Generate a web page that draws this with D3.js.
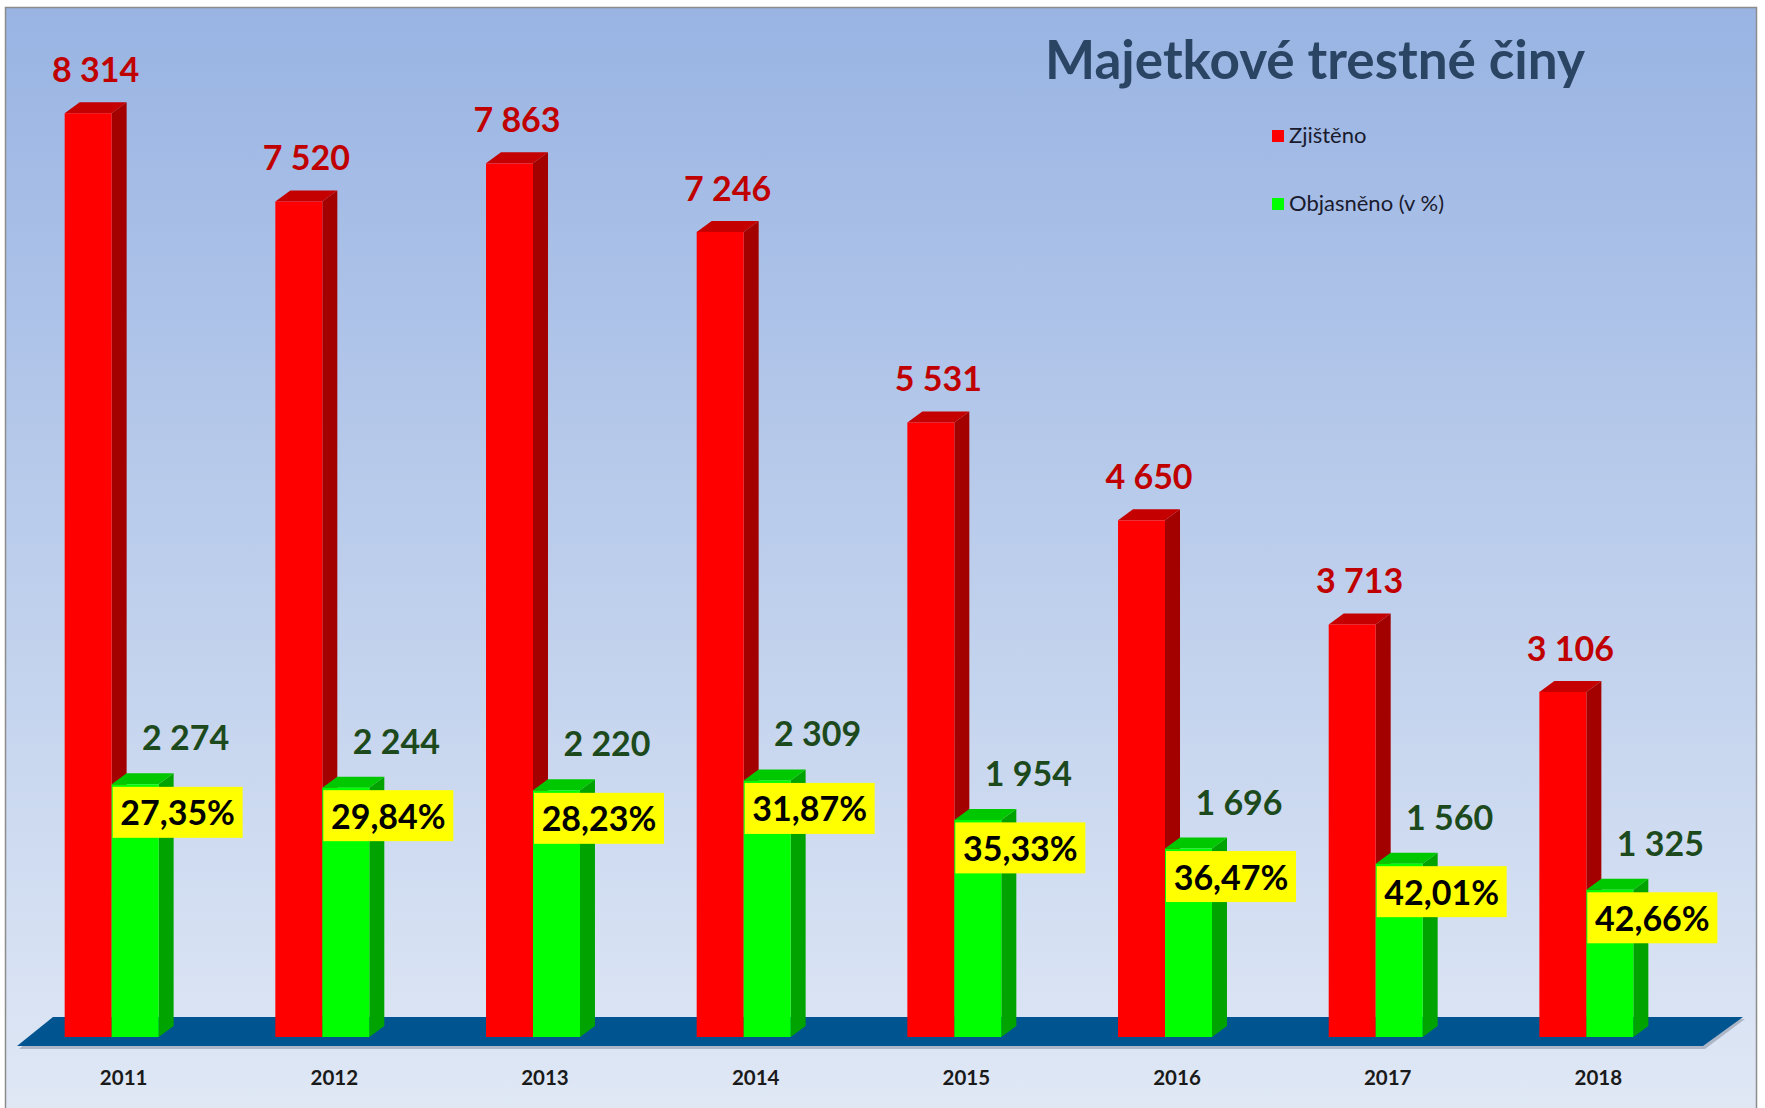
<!DOCTYPE html>
<html>
<head>
<meta charset="utf-8">
<script src="https://cdn.jsdelivr.net/npm/d3@7"></script>
<style>
  body { margin: 0; background: #fff; }
  svg { display: block; }
  text { font-family: Lato, "Open Sans", sans-serif; }
</style>
</head>
<body>
<div id="chart"></div>
<script>
  const years = ['2011', '2012', '2013', '2014', '2015', '2016', '2017', '2018'];
  const zjisteno = [8314, 7520, 7863, 7246, 5531, 4650, 3713, 3106];
  const objasneno = [2274, 2244, 2220, 2309, 1954, 1696, 1560, 1325];
  const procenta = ['27,35%', '29,84%', '28,23%', '31,87%', '35,33%', '36,47%', '42,01%', '42,66%'];
  const seriesNames = ['Zjištěno', 'Objasněno (v %)'];

  const W = 1765;
  const H = 1108;
  const base = 1037;
  const dx = 15;
  const dy = 11;
  const fmt = v => d3.format(',d')(v).replace(/,/g, ' ');

  const svg = d3.select('#chart').append('svg')
    .attr('width', W)
    .attr('height', H);

  const defs = svg.append('defs');
  const grad = defs.append('linearGradient')
    .attr('id', 'bg')
    .attr('x1', 0).attr('y1', 0).attr('x2', 0).attr('y2', 1);
  grad.append('stop').attr('offset', '0%').attr('stop-color', '#99b4e3');
  grad.append('stop').attr('offset', '100%').attr('stop-color', '#e0e8f5');

  svg.append('rect')
    .attr('x', 5.5).attr('y', 7.5)
    .attr('width', 1751).attr('height', H)
    .attr('fill', 'url(#bg)')
    .attr('stroke', '#8c8c8c')
    .attr('stroke-width', 1.5);

  const x = d3.scaleBand()
    .domain(years)
    .range([12, 1686])
    .paddingInner(0.554)
    .paddingOuter(0.25);
  const xs = d3.scaleBand()
    .domain(['z', 'o'])
    .range([0, x.bandwidth()]);
  const y = d3.scaleLinear()
    .domain([0, 9000])
    .range([base, base - 1000]);
  const bw = xs.bandwidth();

  // floor
  svg.append('polygon')
    .attr('points', [[55, 1019], [1745, 1019], [1705, 1049], [19, 1049]].join(' '))
    .attr('fill', '#9aa3b3')
    .attr('opacity', 0.7);
  svg.append('polygon')
    .attr('points', [[53, 1017], [1743, 1017], [1703, 1046], [17, 1046]].join(' '))
    .attr('fill', '#00548f');

  function bar3d(g, x0, top, front, sideCol, topCol) {
    g.append('polygon')
      .attr('points', [[x0 + bw, top], [x0 + bw + dx, top - dy], [x0 + bw + dx, base - dy], [x0 + bw, base]].join(' '))
      .attr('fill', sideCol);
    g.append('polygon')
      .attr('points', [[x0, top], [x0 + dx, top - dy], [x0 + bw + dx, top - dy], [x0 + bw, top]].join(' '))
      .attr('fill', topCol);
    g.append('rect')
      .attr('x', x0).attr('y', top)
      .attr('width', bw).attr('height', base - top)
      .attr('fill', front);
  }

  const groups = svg.selectAll('g.year')
    .data(years)
    .enter().append('g')
    .attr('class', 'year');

  groups.each(function (yr, i) {
    const g = d3.select(this);
    const xr = x(yr) + xs('z');
    const xg = x(yr) + xs('o');
    const tr = y(zjisteno[i]);
    const tg = y(objasneno[i]);
    bar3d(g, xr, tr, '#ff0000', '#a30000', '#c40000');
    bar3d(g, xg, tg, '#00ff00', '#00a300', '#00c800');

    g.append('rect')
      .attr('x', xg + 1).attr('y', tg + 2.5)
      .attr('width', 130).attr('height', 51)
      .attr('fill', '#ffff00');
    g.append('text')
      .attr('x', xg + 66).attr('y', tg + 41)
      .attr('text-anchor', 'middle')
      .attr('font-size', 34).attr('font-weight', 'bold')
      .attr('fill', '#000')
      .text(procenta[i]);

    g.append('text')
      .attr('x', xr + 31).attr('y', tr - 31)
      .attr('text-anchor', 'middle')
      .attr('font-size', 34).attr('font-weight', 'bold')
      .attr('fill', '#c00000')
      .text(fmt(zjisteno[i]));
    g.append('text')
      .attr('x', xg + 74).attr('y', tg - 34)
      .attr('text-anchor', 'middle')
      .attr('font-size', 34).attr('font-weight', 'bold')
      .attr('fill', '#1d4a1d')
      .text(fmt(objasneno[i]));

    g.append('text')
      .attr('x', x(yr) + x.bandwidth() / 2 + 12).attr('y', 1085)
      .attr('text-anchor', 'middle')
      .attr('font-size', 20.5).attr('font-weight', 'bold')
      .attr('fill', '#1a1a1a')
      .text(yr);
  });

  // title
  svg.append('text')
    .attr('x', 1045).attr('y', 79)
    .attr('font-size', 54).attr('font-weight', 'bold')
    .attr('fill', '#2a4464')
    .attr('textLength', 540)
    .attr('lengthAdjust', 'spacingAndGlyphs')
    .text('Majetkové trestné činy');

  // legend
  const legend = svg.append('g');
  const legendColors = ['#ff0000', '#00ff00'];
  const legendY = [130, 198];
  seriesNames.forEach((name, i) => {
    legend.append('rect')
      .attr('x', 1272).attr('y', legendY[i])
      .attr('width', 12).attr('height', 12)
      .attr('fill', legendColors[i]);
    legend.append('text')
      .attr('x', 1289).attr('y', legendY[i] + 13)
      .attr('font-size', 22)
      .attr('fill', '#1a1a2e')
      .text(name);
  });
</script>
</body>
</html>
